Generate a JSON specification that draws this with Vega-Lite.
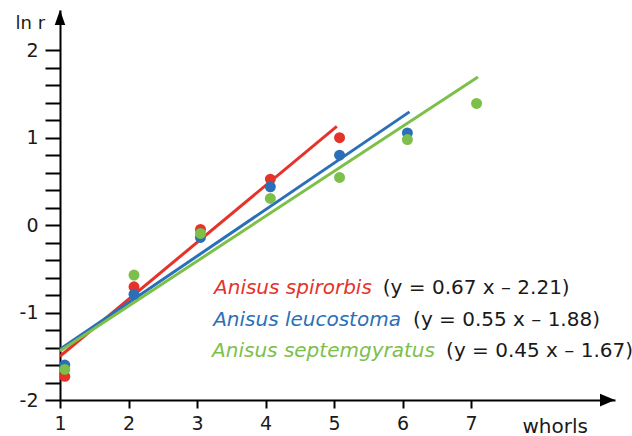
{
  "$schema": "https://vega.github.io/schema/vega-lite/v6.json",
  "width": 555,
  "height": 390,
  "autosize": {"type": "none"},
  "padding": {"left": 60, "top": 10, "right": 17, "bottom": 36},
  "background": "white",
  "config": {"view": {"stroke": null}, "font": "DejaVu Sans"},
  "datasets": {
    "lines": [
      {"species": "Anisus spirorbis", "whorls": 1, "ln_r": -1.5},
      {"species": "Anisus spirorbis", "whorls": 5.04, "ln_r": 1.13},
      {"species": "Anisus leucostoma", "whorls": 1, "ln_r": -1.42},
      {"species": "Anisus leucostoma", "whorls": 6.1, "ln_r": 1.295},
      {"species": "Anisus septemgyratus", "whorls": 1, "ln_r": -1.44},
      {"species": "Anisus septemgyratus", "whorls": 7.1, "ln_r": 1.695}
    ],
    "points": [
      {"species": "Anisus spirorbis", "whorls": 1.07, "ln_r": -1.73},
      {"species": "Anisus spirorbis", "whorls": 2.08, "ln_r": -0.705},
      {"species": "Anisus spirorbis", "whorls": 3.05, "ln_r": -0.05},
      {"species": "Anisus spirorbis", "whorls": 4.07, "ln_r": 0.526},
      {"species": "Anisus spirorbis", "whorls": 5.08, "ln_r": 1.0},
      {"species": "Anisus leucostoma", "whorls": 1.07, "ln_r": -1.6},
      {"species": "Anisus leucostoma", "whorls": 2.08, "ln_r": -0.792},
      {"species": "Anisus leucostoma", "whorls": 3.05, "ln_r": -0.141},
      {"species": "Anisus leucostoma", "whorls": 4.07, "ln_r": 0.438},
      {"species": "Anisus leucostoma", "whorls": 5.08, "ln_r": 0.8},
      {"species": "Anisus leucostoma", "whorls": 6.07, "ln_r": 1.055},
      {"species": "Anisus septemgyratus", "whorls": 1.07, "ln_r": -1.65},
      {"species": "Anisus septemgyratus", "whorls": 2.08, "ln_r": -0.571},
      {"species": "Anisus septemgyratus", "whorls": 3.05, "ln_r": -0.095},
      {"species": "Anisus septemgyratus", "whorls": 4.07, "ln_r": 0.305},
      {"species": "Anisus septemgyratus", "whorls": 5.08, "ln_r": 0.545},
      {"species": "Anisus septemgyratus", "whorls": 6.07, "ln_r": 0.979},
      {"species": "Anisus septemgyratus", "whorls": 7.08, "ln_r": 1.391}
    ],
    "labels": [
      {"species": "Anisus spirorbis", "equation": "(y = 0.67 x – 2.21)", "sx": 3.248, "ex": 5.711, "ty": -0.789},
      {"species": "Anisus leucostoma", "equation": "(y = 0.55 x – 1.88)", "sx": 3.235, "ex": 6.153, "ty": -1.149},
      {"species": "Anisus septemgyratus", "equation": "(y = 0.45 x – 1.67)", "sx": 3.22, "ex": 6.635, "ty": -1.509}
    ]
  },
  "layer": [
    {
      "data": {"name": "lines"},
      "mark": {"type": "line", "strokeWidth": 3},
      "encoding": {
        "x": {
          "field": "whorls", "type": "quantitative",
          "scale": {"domain": [1, 9.1], "nice": false, "zero": false},
          "axis": {
            "values": [1, 2, 3, 4, 5, 6, 7], "tickCount": 50, "format": "d",
            "grid": false, "tickSize": 8, "tickWidth": 2, "tickColor": "black",
            "domainColor": "black", "domainWidth": 2,
            "labelFont": "DejaVu Sans", "labelFontSize": 19, "labelColor": "#1a1a1a",
            "labelPadding": 6, "labelFlush": false, "labelOverlap": false,
            "title": "whorls", "titleFont": "DejaVu Sans", "titleFontSize": 20, "titleFontWeight": "normal",
            "titleColor": "#1a1a1a", "titleAlign": "left", "titleBaseline": "alphabetic",
            "titleX": 462, "titleY": 32
          }
        },
        "y": {
          "field": "ln_r", "type": "quantitative",
          "scale": {"domain": [-2, 2.46], "nice": false, "zero": false},
          "axis": {
            "values": [-2, -1.8, -1.6, -1.4, -1.2, -1, -0.8, -0.6, -0.4, -0.2, 0, 0.2, 0.4, 0.6, 0.8, 1, 1.2, 1.4, 1.6, 1.8, 2],
            "tickCount": 50,
            "labelExpr": "datum.value % 1 === 0 ? '' + datum.value : ''",
            "grid": false, "tickSize": 15, "tickWidth": 2, "tickColor": "black",
            "domainColor": "black", "domainWidth": 2,
            "labelFont": "DejaVu Sans", "labelFontSize": 19, "labelColor": "#1a1a1a",
            "labelPadding": 7, "labelFlush": false, "labelOverlap": false,
            "title": "ln r", "titleFont": "DejaVu Sans", "titleFontSize": 18, "titleFontWeight": "normal",
            "titleColor": "#1a1a1a", "titleAngle": 0, "titleAlign": "left", "titleBaseline": "alphabetic",
            "titleX": -45, "titleY": 18
          }
        },
        "color": {
          "field": "species", "type": "nominal",
          "scale": {"domain": ["Anisus spirorbis", "Anisus leucostoma", "Anisus septemgyratus"], "range": ["#e5332a", "#2a70b8", "#7cc04a"]},
          "legend": null
        },
        "detail": {"field": "species"}
      }
    },
    {
      "data": {"name": "points"},
      "mark": {"type": "circle", "size": 120, "opacity": 1},
      "encoding": {
        "x": {"field": "whorls", "type": "quantitative", "title": "whorls"},
        "y": {"field": "ln_r", "type": "quantitative", "title": "ln r"},
        "color": {"field": "species", "type": "nominal", "legend": null}
      }
    },
    {
      "data": {"values": [{"axis": "x"}]},
      "mark": {"type": "point", "shape": "M0,0 L-2,-0.85 L-2,0.85 Z", "size": 225, "filled": true, "color": "black", "opacity": 1, "strokeWidth": 0},
      "encoding": {"x": {"datum": 9.1}, "y": {"datum": -2}}
    },
    {
      "data": {"values": [{"axis": "y"}]},
      "mark": {"type": "point", "shape": "M0,0 L-0.7,2 L0.7,2 Z", "size": 225, "filled": true, "color": "black", "opacity": 1, "strokeWidth": 0},
      "encoding": {"x": {"datum": 1}, "y": {"datum": 2.46}}
    },
    {
      "data": {"name": "labels"},
      "mark": {"type": "text", "align": "left", "baseline": "alphabetic", "fontSize": 20, "fontStyle": "italic", "font": "DejaVu Sans"},
      "encoding": {
        "x": {"field": "sx", "type": "quantitative", "title": "whorls"},
        "y": {"field": "ty", "type": "quantitative", "title": "ln r"},
        "text": {"field": "species"},
        "color": {"field": "species", "type": "nominal", "legend": null}
      }
    },
    {
      "data": {"name": "labels"},
      "mark": {"type": "text", "align": "left", "baseline": "alphabetic", "fontSize": 20, "font": "DejaVu Sans", "color": "#1a1a1a"},
      "encoding": {
        "x": {"field": "ex", "type": "quantitative", "title": "whorls"},
        "y": {"field": "ty", "type": "quantitative", "title": "ln r"},
        "text": {"field": "equation"}
      }
    }
  ]
}
